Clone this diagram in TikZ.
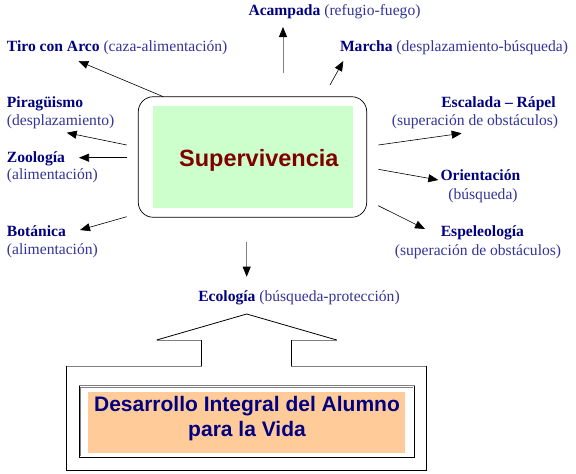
\documentclass[tikz,border=0pt]{standalone}
\usepackage{fontspec}
\setmainfont{Liberation Serif}
\newfontfamily\sansf{Liberation Sans}
\usetikzlibrary{arrows.meta}
\definecolor{navy}{RGB}{0,0,128}
\definecolor{lblue}{RGB}{51,51,153}
\definecolor{lgreen}{RGB}{204,255,204}
\definecolor{peach}{RGB}{255,204,153}
\definecolor{dred}{RGB}{128,0,0}
\newcommand{\nm}[1]{\textbf{\color{navy}#1}}
\newcommand{\rg}[1]{{\color{lblue}#1}}
\begin{document}
\begin{tikzpicture}[x=1pt,y=-1pt,
  lbl/.style={inner sep=0pt,font=\fontsize{15.6}{18}\selectfont},
  arr/.style={-{Triangle[length=10pt,width=8pt]},line width=0.6pt,black},
  varr/.style={line width=0.8pt,gray,arrows={-{Triangle[length=10pt,width=8pt,color=black]}}},
  frame/.style={line width=0.8pt,black},
  gframe/.style={line width=0.8pt,gray}]
\useasboundingbox (0,0) rectangle (576,474);

% central box
\node[draw,rounded corners=15pt,line width=0.7pt,minimum width=228.4pt,minimum height=120.6pt,inner sep=0pt] (sup) at (252.5,157) {};
\node[fill=lgreen,minimum width=200pt,minimum height=101.7pt,inner sep=0pt] (supfill) at (252.7,156.85) {};
\node[anchor=base,inner sep=0pt,font=\sansf\bfseries\fontsize{23.5}{28}\selectfont,text=dred] (suptext) at (258.8,166) {Supervivencia};

% labels
\node[lbl,anchor=base] (acamp) at (334.5,15) {\nm{Acampada} \rg{(refugio-fuego)}};
\node[lbl,anchor=base west] (tiro) at (6.7,51.7) {\nm{Tiro con Arco} \rg{(caza-alimentación)}};
\node[lbl,anchor=base] (marcha) at (454,51.7) {\nm{Marcha} \rg{(desplazamiento-búsqueda)}};
\node[lbl,anchor=base west] (pira1) at (6.7,107.3) {\nm{Piragüismo}};
\node[lbl,anchor=base west] (pira2) at (6.7,125) {\rg{(desplazamiento)}};
\node[lbl,anchor=base west] (zoo1) at (6.7,162.7) {\nm{Zoología}};
\node[lbl,anchor=base west] (zoo2) at (6.7,179.3) {\rg{(alimentación)}};
\node[lbl,anchor=base west] (bot1) at (6.7,236.7) {\nm{Botánica}};
\node[lbl,anchor=base west] (bot2) at (6.7,254) {\rg{(alimentación)}};
\node[lbl,anchor=base] (esc1) at (498.5,107) {\nm{Escalada -- Rápel}};
\node[lbl,anchor=base] (esc2) at (475,125) {\rg{(superación de obstáculos)}};
\node[lbl,anchor=base] (ori1) at (480.4,180.7) {\nm{Orientación}};
\node[lbl,anchor=base] (ori2) at (483,199) {\rg{(búsqueda)}};
\node[lbl,anchor=base] (esp1) at (482.4,236.7) {\nm{Espeleología}};
\node[lbl,anchor=base] (esp2) at (478,255) {\rg{(superación de obstáculos)}};
\node[lbl,anchor=base] (eco) at (299,301) {\nm{Ecología} \rg{(búsqueda-protección)}};

% arrow end points
\coordinate (acS) at (283,73);   \coordinate (acE) at (283,27);
\coordinate (tiS) at (163.3,96.7); \coordinate (tiE) at (78.3,61);
\coordinate (maS) at (330,85);   \coordinate (maE) at (343.3,61);
\coordinate (piS) at (126.7,145); \coordinate (piE) at (66.7,132.7);
\coordinate (zoS) at (126.7,157.7); \coordinate (zoE) at (79,157.7);
\coordinate (boS) at (126.7,216.7); \coordinate (boE) at (80,230);
\coordinate (esS) at (378.3,145); \coordinate (esE) at (461.7,133.3);
\coordinate (orS) at (378.3,169.3); \coordinate (orE) at (438.3,180);
\coordinate (epS) at (378.3,205.7); \coordinate (epE) at (425,229);
\coordinate (ecS) at (246.7,241.7); \coordinate (ecE) at (246.7,276.7);

\draw[varr] (acS) -- (acE);
\draw[arr] (tiS) -- (tiE);
\draw[arr] (maS) -- (maE);
\draw[arr] (piS) -- (piE);
\draw[arr] (zoS) -- (zoE);
\draw[arr] (boS) -- (boE);
\draw[arr] (esS) -- (esE);
\draw[arr] (orS) -- (orE);
\draw[arr] (epS) -- (epE);
\draw[varr] (ecS) -- (ecE);

% big arrow frame
\coordinate (f1) at (66.7,366);  \coordinate (f2) at (201.7,366);
\coordinate (f3) at (201.7,340); \coordinate (f4) at (156.7,340);
\coordinate (f5) at (246.7,314); \coordinate (f6) at (336.7,340);
\coordinate (f7) at (291.3,340); \coordinate (f8) at (291.3,366);
\coordinate (f9) at (426.7,366); \coordinate (f10) at (426.7,470.7);
\coordinate (f11) at (66.7,470.7);
\draw[gframe] (f1) -- (f2);
\draw[gframe] (f3) -- (f4);
\draw[gframe] (f6) -- (f7);
\draw[gframe] (f8) -- (f9);
\draw[frame] (f2) -- (f3);
\draw[frame] (f4) -- (f5) -- (f6);
\draw[frame] (f7) -- (f8);
\draw[frame] (f9) -- (f10) -- (f11) -- (f1);
\node[draw,line width=0.8pt,minimum width=335.3pt,minimum height=72pt,inner sep=0pt] (inner) at (246.65,421.7) {};
\draw[gray,line width=0.8pt] (inner.north west) -- (inner.north east);
\draw[gray,line width=0.7pt] (80.6,456.1) -- (80.6,387.3) -- (412.7,387.3);
\node[fill=peach,minimum width=316.7pt,minimum height=60.7pt,inner sep=0pt] (devfill) at (246.65,422.35) {};
\node[anchor=base,inner sep=0pt,font=\sansf\bfseries\fontsize{21}{25}\selectfont,text=navy] (dev) at (247,411.7) {\begin{tabular}[t]{@{}c@{}}Desarrollo Integral del Alumno\\para la Vida\end{tabular}};
\end{tikzpicture}
\end{document}
